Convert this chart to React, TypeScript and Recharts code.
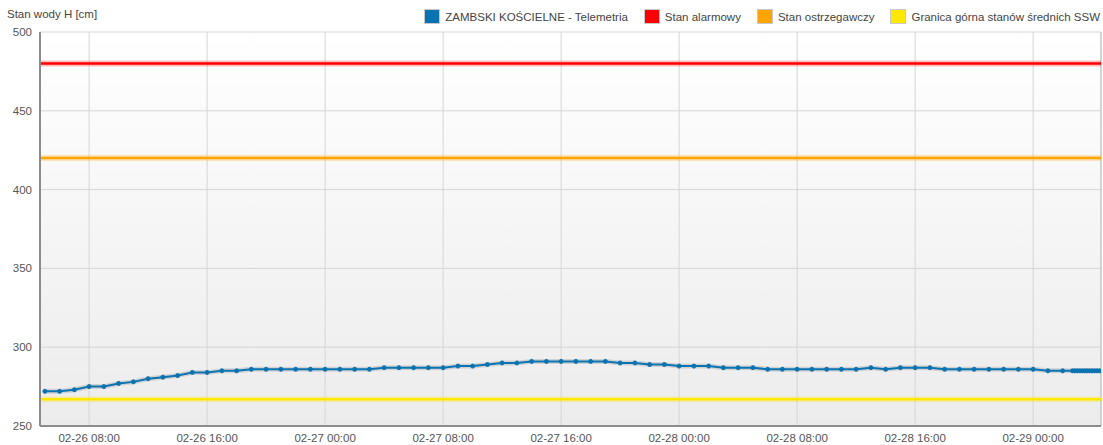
import React from 'react';
import { LineChart, Line, XAxis, YAxis, CartesianGrid, ReferenceLine } from 'recharts';

// Series: hourly readings starting 02-26 05:00, then 10-minute readings at the end
const seriesName = 'ZAMBSKI KOŚCIELNE - Telemetria';
const hourlyStartHour = 5; // hours since 02-26 00:00
const hourlyLevels = [
  272, 272, 273, 275, 275, 277, 278, 280, 281, 282, 284, 284, 285, 285,
  286, 286, 286, 286, 286, 286, 286, 286, 286,
  287, 287, 287, 287, 287,
  288, 288, 289, 290, 290,
  291, 291, 291, 291, 291, 291,
  290, 290, 289, 289, 288, 288, 288, 287, 287, 287,
  286, 286, 286, 286, 286, 286, 286,
  287, 286, 287, 287, 287,
  286, 286, 286, 286, 286, 286, 286,
  285, 285,
];
const tailStartHour = 74 + 40 / 60; // 02-29 02:40
const tailLevels = [285, 285, 285, 285, 285, 285, 285, 285, 285, 285, 285, 285];

// Threshold levels
const thresholdNames = ['Stan alarmowy', 'Stan ostrzegawczy', 'Granica górna stanów średnich SSW'];
const thresholdValues = [480, 420, 267];
const thresholdColors = ['#ff0000', '#ffa500', '#ffe800'];

const seriesColor = '#0a74b2';

// Axes
const xTickHours = [8, 16, 24, 32, 40, 48, 56, 64, 72];
const xDomain = [4.67, 76.6];
const yTicks = [250, 300, 350, 400, 450, 500];
const yAxisTitle = 'Stan wody H [cm]';

const data = [
  ...hourlyLevels.map((v, i) => ({ t: hourlyStartHour + i, level: v })),
  ...tailLevels.map((v, i) => ({ t: tailStartHour + i / 6, level: v })),
];

const fmtTick = (h: number) => {
  const day = 26 + Math.floor(h / 24);
  const hh = h % 24;
  return `02-${day} ${String(hh).padStart(2, '0')}:00`;
};

const legendItems = [
  { name: seriesName, color: seriesColor },
  ...thresholdNames.map((n, i) => ({ name: n, color: thresholdColors[i] })),
];

const FONT = '"Liberation Sans", Arial, sans-serif';
const FS = 11.5;

export default function App() {
  return (
    <div style={{ position: 'absolute', left: 0, top: 0, width: 1103, height: 445, background: '#fff', fontFamily: FONT }}>
      <div style={{ position: 'absolute', left: 7, top: 8, fontSize: FS, color: '#444' }}>{yAxisTitle}</div>
      <div style={{ position: 'absolute', right: 3, top: 9, display: 'flex', alignItems: 'center', fontSize: FS, color: '#444' }}>
        {legendItems.map((it) => (
          <div key={it.name} style={{ display: 'flex', alignItems: 'center', marginLeft: 16 }}>
            <div style={{ width: 14, height: 13, background: it.color, border: '1px solid #c8c8c8', boxSizing: 'content-box', marginRight: 5 }} />
            <span>{it.name}</span>
          </div>
        ))}
      </div>
      <LineChart width={1103} height={445} data={data} margin={{ top: 32, right: 2, left: 0, bottom: 0 }}>
        <defs>
          <linearGradient id="plotBg" x1="0" y1="0" x2="0" y2="1">
            <stop offset="0%" stopColor="#ffffff" />
            <stop offset="100%" stopColor="#ececec" />
          </linearGradient>
        </defs>
        <CartesianGrid stroke="#d6d6d6" fill="url(#plotBg)" fillOpacity={1} />
        <XAxis
          dataKey="t"
          type="number"
          domain={xDomain}
          ticks={xTickHours}
          tickFormatter={fmtTick}
          height={19}
          tickLine={false}
          axisLine={{ stroke: '#8c8c8c', strokeWidth: 2 }}
          tick={{ fill: '#555', fontSize: FS, fontFamily: FONT }}
          allowDataOverflow
        />
        <YAxis
          type="number"
          domain={[250, 500]}
          ticks={yTicks}
          width={40}
          tickLine={false}
          axisLine={{ stroke: '#8c8c8c', strokeWidth: 2 }}
          tick={{ fill: '#555', fontSize: FS, fontFamily: FONT }}
          allowDataOverflow
        />
        <ReferenceLine x={xDomain[1]} stroke="#bdbdbd" strokeWidth={1} />
        {thresholdValues.map((v, i) => (
          <ReferenceLine key={'g' + i} y={v} stroke={thresholdColors[i]} strokeOpacity={0.25} strokeWidth={6} />
        ))}
        {thresholdValues.map((v, i) => (
          <ReferenceLine key={'l' + i} y={v} stroke={thresholdColors[i]} strokeWidth={2.5} />
        ))}
        <Line
          dataKey="level"
          stroke="rgba(0,0,0,0.12)"
          strokeWidth={5}
          dot={false}
          activeDot={false}
          isAnimationActive={false}
          legendType="none"
        />
        <Line
          dataKey="level"
          name={seriesName}
          stroke={seriesColor}
          strokeWidth={2}
          dot={{ r: 2, fill: seriesColor, stroke: seriesColor, strokeWidth: 1 }}
          activeDot={false}
          isAnimationActive={false}
        />
      </LineChart>
    </div>
  );
}
